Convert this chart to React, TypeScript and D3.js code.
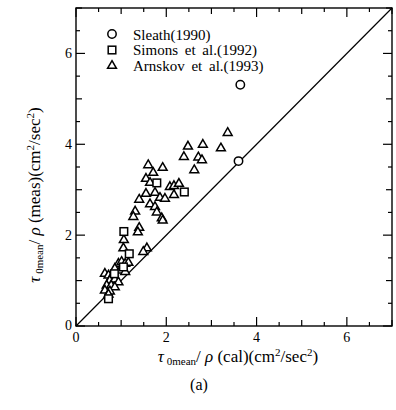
import React from "react";
import * as d3 from "d3";

// Sleath (1990)
const sleathX = [3.64, 3.6];
const sleathY = [5.31, 3.63];

// Simons et al. (1992)
const simonsX = [1.06, 1.18, 0.72, 1.79, 2.4, 0.85, 1.05];
const simonsY = [2.08, 1.59, 0.6, 3.15, 2.95, 1.15, 1.3];

// Arnskov et al. (1993)
const arnskovX = [
  3.36, 2.48, 2.81, 2.39, 3.21, 2.71, 2.79, 2.62, 1.6, 1.92, 1.71, 1.55, 1.64,
  2.08, 2.17, 2.28, 2.17, 1.55, 1.4, 1.75, 1.86, 1.97, 1.64, 1.75, 1.79, 1.9,
  1.92, 1.31, 1.27, 1.4, 1.37, 1.06, 1.57, 1.49, 1.05, 0.94, 1.01, 1.09, 1.16,
  0.86, 0.98, 1.09, 0.64, 0.72, 0.79, 0.75, 0.86, 0.94, 0.68, 0.78, 0.86, 0.64,
  0.75, 0.72,
];
const arnskovY = [
  4.27, 3.97, 4.01, 3.74, 3.93, 3.73, 3.67, 3.45, 3.56, 3.5, 3.39, 3.26, 3.17,
  3.08, 3.1, 3.15, 2.9, 2.93, 2.8, 2.95, 2.84, 2.82, 2.7, 2.64, 2.52, 2.39,
  2.34, 2.54, 2.42, 2.18, 2.08, 1.91, 1.73, 1.65, 1.73, 1.39, 1.43, 1.39, 1.41,
  1.28, 1.24, 1.21, 1.17, 1.13, 1.1, 1.02, 1.04, 0.98, 0.91, 0.91, 0.87, 0.8,
  0.78, 0.71,
];

const axisMax = 7;
const tickLabels = [0, 2, 4, 6];
const legendLabels = ["Sleath(1990)", "Simons et al.(1992)", "Arnskov et al.(1993)"];

const W = 396;
const H = 410;
const left = 76;
const right = 392;
const top = 8;
const bottom = 326;
const serif = "Liberation Serif, Times New Roman, serif";

const x = d3.scaleLinear().domain([0, axisMax]).range([left, right]);
const y = d3.scaleLinear().domain([0, axisMax]).range([bottom, top]);

const minorTicks = d3.range(0, axisMax + 0.001, 0.5);

function tickLen(v: number) {
  if (Math.abs(v % 2) < 1e-6) return 9;
  if (Math.abs(v % 1) < 1e-6) return 6;
  return 4;
}

const sw = 1.5;

function Circle({ cx, cy }: { cx: number; cy: number }) {
  return <circle cx={cx} cy={cy} r={4.2} fill="#fff" stroke="#000" strokeWidth={sw} />;
}
function Square({ cx, cy }: { cx: number; cy: number }) {
  return (
    <rect x={cx - 3.8} y={cy - 3.8} width={7.6} height={7.6} fill="#fff" stroke="#000" strokeWidth={sw} />
  );
}
function Triangle({ cx, cy }: { cx: number; cy: number }) {
  const tri = d3.symbol().type(d3.symbolTriangle).size(34)();
  return (
    <path d={tri || ""} transform={`translate(${cx},${cy + 0.8})`} fill="#fff" stroke="#000" strokeWidth={sw} />
  );
}

function Title({ tag }: { tag: string }) {
  return (
    <>
      <tspan fontStyle="italic">τ</tspan>
      <tspan fontSize={11} dy={3}> 0mean</tspan>
      <tspan dy={-3}>/ </tspan>
      <tspan fontStyle="italic">ρ</tspan>
      <tspan> ({tag})(cm</tspan>
      <tspan fontSize={11} dy={-6}>2</tspan>
      <tspan dy={6}>/sec</tspan>
      <tspan fontSize={11} dy={-6}>2</tspan>
      <tspan dy={6}>)</tspan>
    </>
  );
}

export default function App() {
  const diag = d3.line<number>()
    .x((d) => x(d))
    .y((d) => y(d))([0, axisMax]);

  return (
    <svg width={W} height={H} style={{ position: "absolute", left: 0, top: 0, background: "#fff" }}>
      {/* frame */}
      <rect x={left} y={top} width={right - left} height={bottom - top} fill="none" stroke="#000" strokeWidth={1.4} />
      {/* inward ticks on all four sides */}
      {minorTicks.map((v) => (
        <g key={v} stroke="#000" strokeWidth={1.2}>
          <line x1={x(v)} x2={x(v)} y1={bottom} y2={bottom - tickLen(v)} />
          <line x1={x(v)} x2={x(v)} y1={top} y2={top + tickLen(v)} />
          <line y1={y(v)} y2={y(v)} x1={left} x2={left + tickLen(v)} />
          <line y1={y(v)} y2={y(v)} x1={right} x2={right - tickLen(v)} />
        </g>
      ))}
      {/* tick labels */}
      {tickLabels.map((v) => (
        <text key={"x" + v} x={x(v)} y={bottom + 16} fontSize={14} fontFamily={serif} textAnchor="middle">
          {v}
        </text>
      ))}
      {tickLabels.map((v) => (
        <text key={"y" + v} x={left - 4} y={y(v) + (v === 0 ? 4 : 5)} fontSize={14} fontFamily={serif} textAnchor="end">
          {v}
        </text>
      ))}
      {/* 1:1 line */}
      <path d={diag || ""} fill="none" stroke="#000" strokeWidth={1.2} />
      {/* data */}
      {arnskovX.map((v, i) => (
        <Triangle key={"a" + i} cx={x(v)} cy={y(arnskovY[i])} />
      ))}
      {simonsX.map((v, i) => (
        <Square key={"s" + i} cx={x(v)} cy={y(simonsY[i])} />
      ))}
      {sleathX.map((v, i) => (
        <Circle key={"c" + i} cx={x(v)} cy={y(sleathY[i])} />
      ))}
      {/* legend */}
      <Circle cx={112} cy={34} />
      <Square cx={112} cy={50} />
      <Triangle cx={112} cy={65} />
      {legendLabels.map((t, i) => (
        <text key={t} x={133} y={39.5 + i * 15.5} fontFamily={serif} fontSize={15} wordSpacing={3}>
          {t}
        </text>
      ))}
      {/* x axis title */}
      <text x={238} y={362} fontFamily={serif} fontSize={17} textAnchor="middle">
        <Title tag="cal" />
      </text>
      {/* y axis title */}
      <text transform="translate(40,195) rotate(-90)" fontFamily={serif} fontSize={17} textAnchor="middle">
        <Title tag="meas" />
      </text>
      <text x={199} y={390} fontFamily={serif} fontSize={16} textAnchor="middle">
        (a)
      </text>
    </svg>
  );
}
